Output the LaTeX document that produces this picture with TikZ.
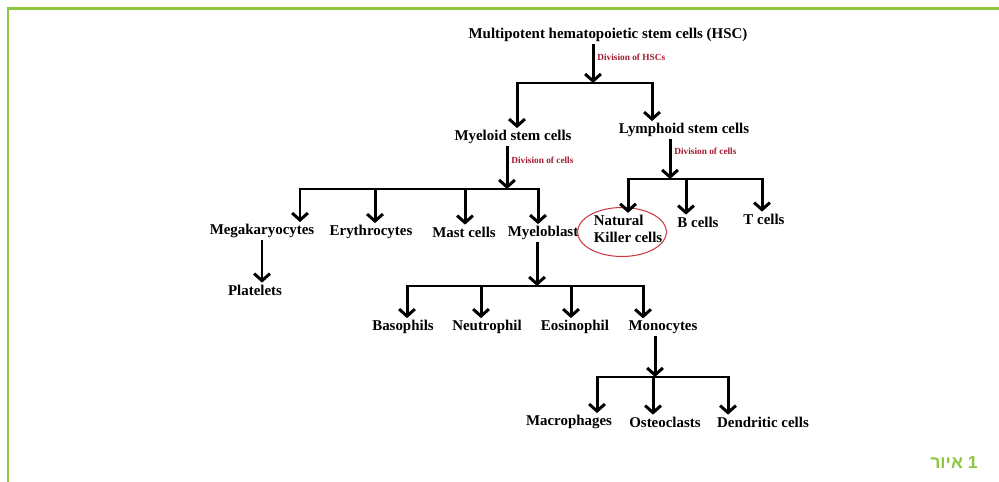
\documentclass[tikz,border=0pt]{standalone}
\usepackage{fontspec}
\setmainfont{Liberation Serif}
\newfontfamily\hebfont[Script=Hebrew]{Liberation Sans}
\TeXXeTstate=1
\usetikzlibrary{arrows.meta, shapes.geometric}
\definecolor{framegreen}{RGB}{141,198,63}
\definecolor{divred}{RGB}{160,28,48}
\definecolor{ringred}{RGB}{200,60,70}

\begin{document}
\begin{tikzpicture}[x=0.02cm, y=-0.02cm,
    cell/.style = {font=\fontsize{8.5}{10}\selectfont\bfseries, inner sep=1pt},
    div/.style = {font=\fontsize{5.3}{6}\selectfont\bfseries, text=divred, inner sep=0pt, anchor=west},
    arr/.style = {line width=1.7pt, -{Straight Barb[length=4pt,width=9pt]}},
    fork/.style = {line width=1.7pt, {Straight Barb[length=4pt,width=9pt]}-{Straight Barb[length=4pt,width=9pt]}},
    frame/.style = {draw=framegreen, line width=0.06cm}]
            \useasboundingbox (0,0) rectangle (999,482);
            \draw[frame] (999,8.5) -- (8,8.5) -- (8,482);

            \node[cell] (hsc) at (608,35) {Multipotent hematopoietic stem cells (HSC)};
            \node[cell] (mye) at (513,137) {Myeloid stem cells};
            \node[cell] (lym) at (684,130) {Lymphoid stem cells};
            \node[cell] (mega) at (262,231) {Megakaryocytes};
            \node[cell] (ery) at (371,232) {Erythrocytes};
            \node[cell] (mast) at (464,232) {Mast cells};
            \node[cell] (myb) at (543,233) {Myeloblast};
            \node[cell] (plt) at (255,290) {Platelets};
            \node[cell] (baso) at (403,327) {Basophils};
            \node[cell] (neut) at (487,327) {Neutrophil};
            \node[cell] (eos) at (575,327) {Eosinophil};
            \node[cell] (mono) at (663,327) {Monocytes};
            \node[cell] (macro) at (569,422) {Macrophages};
            \node[cell] (osteo) at (665,422) {Osteoclasts};
            \node[cell] (dend) at (763,422) {Dendritic cells};
            \node[cell, align=left] (nk) at (628,229) {Natural\\Killer cells};
            \node[cell] (bc) at (698,222) {B cells};
            \node[cell] (tc) at (764,219) {T cells};
            \node[draw=ringred, line width=0.6pt, ellipse, minimum width=1.78cm, minimum height=0.98cm] (ring) at (622,232) {};

            \node[div] (d0) at (597,57) {Division of HSCs};
            \node[div] (d1) at (511,160) {Division of cells};
            \node[div] (d2) at (674,151) {Division of cells};

            \node[font=\hebfont\bfseries\fontsize{10}{12}\selectfont, text=framegreen, anchor=east, inner sep=0pt] (cap) at (978,462)
                {\beginR איור\endR\ 1};

            \coordinate (j0) at (593,83);
            \coordinate (b0a) at (517,83);
            \coordinate (b0b) at (652,83);
            \draw[arr] (hsc.south -| j0) -- (j0);
            \draw[fork] (mye.north -| b0a) -- (b0a) -- (b0b) -- (b0b |- lym.north);

            \coordinate (j1) at (507,189);
            \coordinate (b1a) at (300,189);
            \coordinate (b1b) at (375,189);
            \coordinate (b1c) at (465,189);
            \coordinate (b1d) at (538,189);
            \draw[arr] (mye.south -| j1) -- (j1);
            \draw[fork] (mega.north -| b1a) -- (b1a) -- (b1d) -- (b1d |- myb.north);
            \draw[arr] (b1b) -- (b1b |- ery.north);
            \draw[arr] (b1c) -- (b1c |- mast.north);

            \draw[arr] (mega.south) -- (mega.south |- plt.north);

            \coordinate (j2) at (537,286);
            \coordinate (b2a) at (407,286);
            \coordinate (b2b) at (481,286);
            \coordinate (b2c) at (571,286);
            \coordinate (b2d) at (643,286);
            \draw[arr] (myb.south -| j2) -- (j2);
            \draw[fork] (baso.north -| b2a) -- (b2a) -- (b2d) -- (b2d |- mono.north);
            \draw[arr] (b2b) -- (b2b |- neut.north);
            \draw[arr] (b2c) -- (b2c |- eos.north);

            \coordinate (j3) at (655,377);
            \coordinate (b3a) at (597,377);
            \coordinate (b3b) at (653,377);
            \coordinate (b3c) at (728,377);
            \draw[arr] (mono.south -| j3) -- (j3);
            \draw[fork] (macro.north -| b3a) -- (b3a) -- (b3c) -- (b3c |- dend.north);
            \draw[arr] (b3b) -- (b3b |- osteo.north);

            \coordinate (j4) at (670,179);
            \coordinate (b4a) at (628,179);
            \coordinate (b4b) at (686,179);
            \coordinate (b4c) at (762,179);
            \draw[arr] (lym.south -| j4) -- (j4);
            \draw[fork] (nk.north -| b4a) -- (b4a) -- (b4c) -- (b4c |- tc.north);
            \draw[arr] (b4b) -- (b4b |- bc.north);
        \end{tikzpicture}
\end{document}
